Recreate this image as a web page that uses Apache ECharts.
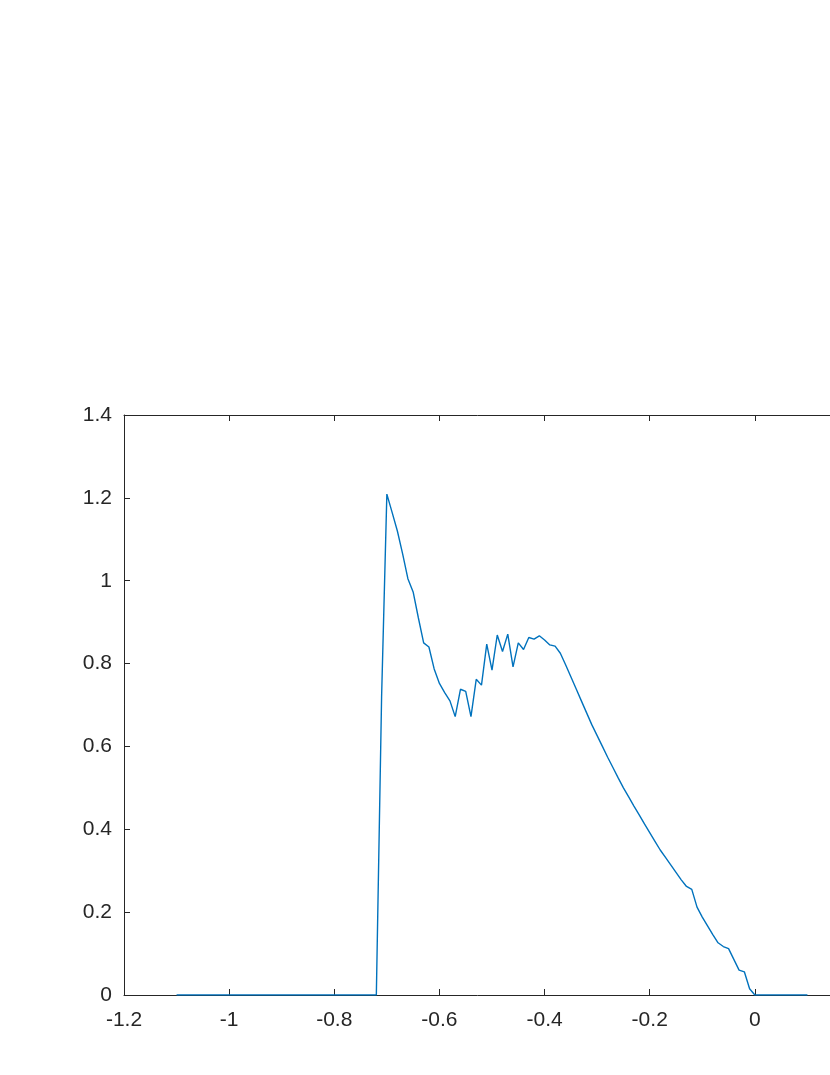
<!DOCTYPE html>
<html>
<head>
<meta charset="utf-8">
<title>Line</title>
<script src="https://cdn.jsdelivr.net/npm/echarts@6/dist/echarts.min.js"></script>
<style>
  html, body { margin: 0; padding: 0; background: #fff; }
  #chart { width: 830px; height: 1075px; }
</style>
</head>
<body>
<div id="chart"></div>
<script>
// x positions of the samples (flat stretches only need their end points)
const xValues = [
  -1.1, -0.72, -0.71, -0.70, -0.69, -0.68, -0.67, -0.66, -0.65, -0.64,
  -0.63, -0.62, -0.61, -0.60, -0.59, -0.58, -0.57, -0.56, -0.55, -0.54,
  -0.53, -0.52, -0.51, -0.50, -0.49, -0.48, -0.47, -0.46, -0.45, -0.44,
  -0.43, -0.42, -0.41, -0.40, -0.39, -0.38, -0.37, -0.36, -0.35, -0.34,
  -0.33, -0.32, -0.31, -0.30, -0.29, -0.28, -0.27, -0.26, -0.25, -0.24,
  -0.23, -0.22, -0.21, -0.20, -0.19, -0.18, -0.17, -0.16, -0.15, -0.14,
  -0.13, -0.12, -0.11, -0.10, -0.09, -0.08, -0.07, -0.06, -0.05, -0.04,
  -0.03, -0.02, -0.01, 0, 0.1
];

// values
const yValues = [
  0, 0, 0.72, 1.209, 1.165, 1.12, 1.065, 1.005, 0.973, 0.91,
  0.85, 0.84, 0.787, 0.752, 0.73, 0.71, 0.672, 0.738, 0.733, 0.672,
  0.762, 0.748, 0.847, 0.784, 0.869, 0.829, 0.871, 0.792, 0.85, 0.834,
  0.863, 0.859, 0.867, 0.857, 0.845, 0.842, 0.825, 0.797, 0.768, 0.739,
  0.71, 0.681, 0.652, 0.626, 0.6, 0.574, 0.549, 0.524, 0.5, 0.478,
  0.456, 0.435, 0.413, 0.392, 0.371, 0.35, 0.332, 0.314, 0.296, 0.278,
  0.262, 0.255, 0.212, 0.188, 0.167, 0.146, 0.126, 0.117, 0.112, 0.086,
  0.06, 0.056, 0.015, 0, 0
];

const xTicks = [-1.2, 0.2, 0.2];   // min, max, interval
const yTicks = [0, 1.4, 0.2];

const axisColor = '#262626';
const fontFamily = '"Liberation Sans", Arial, sans-serif';

const chart = echarts.init(document.getElementById('chart'));

const points = xValues.map((x, i) => [x, yValues[i]]);

// box-style axis: line + inward ticks, labels optional
function boxAxis(range, position, showLabel, margin) {
  return {
    type: 'value',
    position: position,
    min: range[0],
    max: range[1],
    interval: range[2],
    axisLine: { show: true, onZero: false, lineStyle: { color: axisColor, width: 1 } },
    axisTick: { show: true, inside: true, length: 6, lineStyle: { color: axisColor, width: 1 } },
    axisLabel: {
      show: showLabel,
      color: axisColor,
      fontSize: 21,
      fontFamily: fontFamily,
      margin: margin
    },
    splitLine: { show: false }
  };
}

chart.setOption({
  backgroundColor: '#fff',
  animation: false,
  grid: {
    left: 124,
    top: 415,
    width: 736,
    height: 580,
    containLabel: false,
    outerBoundsMode: 'none'
  },
  xAxis: [
    boxAxis(xTicks, 'bottom', true, 15),
    boxAxis(xTicks, 'top', false, 8)
  ],
  yAxis: [
    boxAxis(yTicks, 'left', true, 12),
    boxAxis(yTicks, 'right', false, 8)
  ],
  series: [{
    type: 'line',
    data: points,
    showSymbol: false,
    symbol: 'none',
    lineStyle: { color: '#0072BD', width: 1.4 },
    clip: true
  }]
});

window.addEventListener('resize', () => chart.resize());
</script>
</body>
</html>
